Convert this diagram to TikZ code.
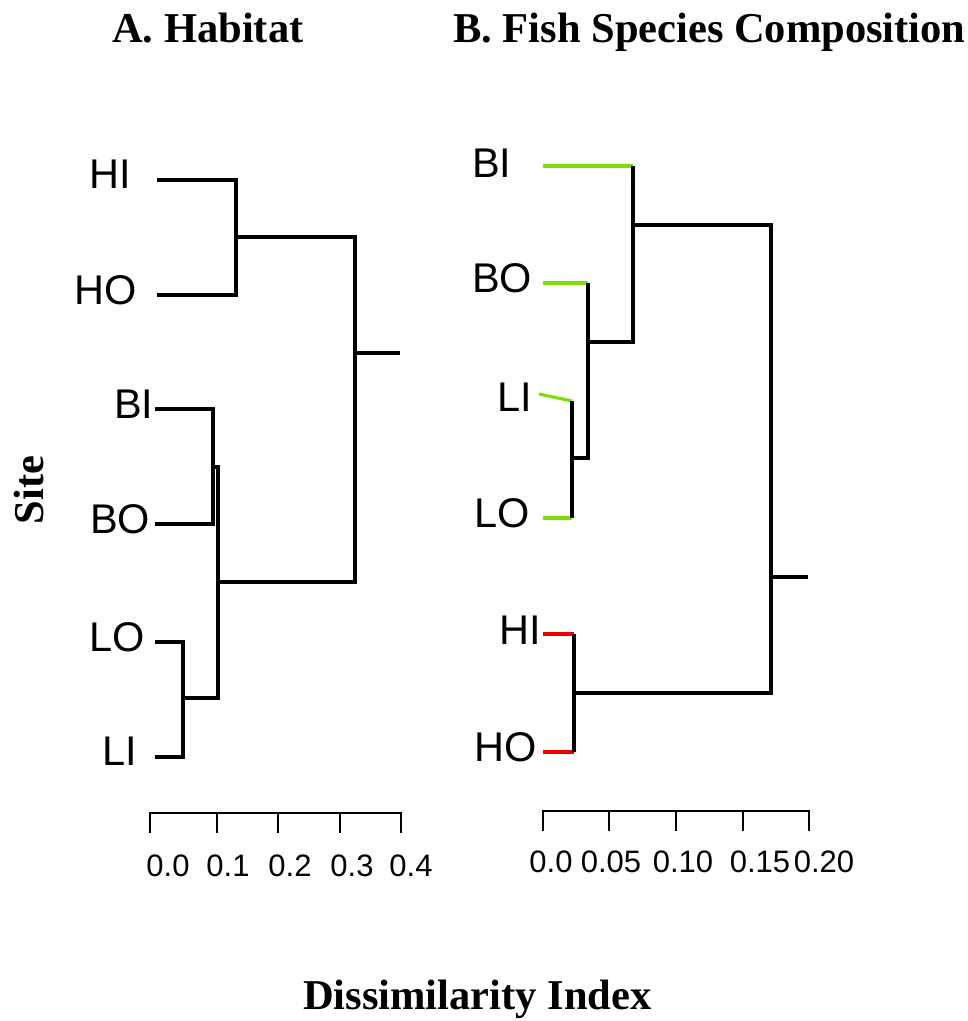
\documentclass[tikz,border=0pt]{standalone}
\usepackage{fontspec}
\newfontfamily\labfont{Liberation Sans}
\newfontfamily\headfont{Liberation Serif}
\definecolor{leafgreen}{RGB}{124,222,0}
\definecolor{leafred}{RGB}{230,0,0}
\begin{document}
\begin{tikzpicture}[x=1pt,y=-1pt,
  branch/.style={line width=3.1pt,black,line join=miter},
  leafg/.style={line width=3.1pt,leafgreen},
  leafr/.style={line width=3.1pt,leafred},
  site/.style={inner sep=0pt,anchor=base west,font=\labfont\fontsize{41.5}{45}\selectfont},
  ticklab/.style={inner sep=0pt,anchor=base,font=\labfont\fontsize{31}{34}\selectfont},
  head/.style={inner sep=0pt,anchor=base west,font=\headfont\bfseries\fontsize{42.5}{46}\selectfont},
  axisline/.style={line width=2.8pt,black,line join=miter}]
\useasboundingbox (0,0) rectangle (968,1021);

% ---------- titles ----------
\node[head] (titleA) at (112,42) {A. Habitat};
\node[head] (titleB) at (453,42) {B. Fish Species Composition};
\node[inner sep=0pt,rotate=90,font=\headfont\bfseries\fontsize{42.5}{46}\selectfont] (ylab) at (29,490) {Site};
\node[head] (xlab) at (303,1009) {Dissimilarity Index};

% ---------- panel A: habitat dendrogram ----------
\node[site] (aHI) at (89,188) {HI};
\node[site] (aHO) at (74,304) {HO};
\node[site] (aBI) at (114,418) {BI};
\node[site] (aBO) at (90,533) {BO};
\node[site] (aLO) at (89,651) {LO};
\node[site] (aLI) at (102,765) {LI};

\coordinate (aHIs) at (157,180); \coordinate (aHIe) at (236,180);
\coordinate (aHOs) at (157,295); \coordinate (aHOe) at (236,295);
\coordinate (aBIs) at (155,409); \coordinate (aBIe) at (213,409);
\coordinate (aBOs) at (155,524); \coordinate (aBOe) at (213,524);
\coordinate (aLOs) at (155,642); \coordinate (aLOe) at (183,642);
\coordinate (aLIs) at (155,757); \coordinate (aLIe) at (183,757);
\coordinate (aH)  at (236,237);
\coordinate (aB)  at (213,467);
\coordinate (aL)  at (183,698);
\coordinate (aBL) at (218,582);
\coordinate (aR)  at (355,353);
\coordinate (aRt) at (400,353);

\draw[branch] (aHIs) -- (aHIe) -- (aHOe) -- (aHOs);
\draw[branch] (aBIs) -- (aBIe) -- (aBOe) -- (aBOs);
\draw[branch] (aLOs) -- (aLOe) -- (aLIe) -- (aLIs);
\draw[branch] (aB) -| (aBL);
\draw[branch] (aL) -| (aBL);
\draw[branch] (aBL) -| (aR);
\draw[branch] (aH) -| (aR);
\draw[branch] (aR) -- (aRt);

% axis A
\coordinate (aX0) at (150,813); \coordinate (aX4) at (401,813);
\draw[axisline] ([yshift=-20pt]aX0) -- (aX0) -- (aX4) -- ([yshift=-20pt]aX4);
\foreach \t in {217,278,340} \draw[axisline] (\t,813) -- (\t,833);
\node[ticklab] (aT0) at (168,876) {0.0};
\node[ticklab] (aT1) at (228,876) {0.1};
\node[ticklab] (aT2) at (290,876) {0.2};
\node[ticklab] (aT3) at (352,876) {0.3};
\node[ticklab] (aT4) at (411,876) {0.4};

% ---------- panel B: fish species dendrogram ----------
\node[site] (bBI) at (472,177) {BI};
\node[site] (bBO) at (472,292) {BO};
\node[site] (bLI) at (497,411) {LI};
\node[site] (bLO) at (474,527) {LO};
\node[site] (bHI) at (499,644) {HI};
\node[site] (bHO) at (474,761) {HO};

\coordinate (bBIs) at (543,166); \coordinate (bBIe) at (633,166);
\coordinate (bBOs) at (543,283); \coordinate (bBOe) at (588,283);
\coordinate (bLIs) at (539,394); \coordinate (bLIe) at (572,401);
\coordinate (bLOs) at (543,518); \coordinate (bLOe) at (572,518);
\coordinate (bHIs) at (543,634); \coordinate (bHIe) at (574,634);
\coordinate (bHOs) at (543,752); \coordinate (bHOe) at (574,752);
\coordinate (bL)  at (572,458);
\coordinate (bBL) at (588,342);
\coordinate (bB)  at (633,225);
\coordinate (bH)  at (574,693);
\coordinate (bR)  at (771,577);
\coordinate (bRt) at (808,577);

\draw[leafg] (bBIs) -- (bBIe);
\draw[leafg] (bBOs) -- (bBOe);
\draw[leafg] (bLIs) -- (bLIe);
\draw[leafg] (bLOs) -- (bLOe);
\draw[leafr] (bHIs) -- (bHIe);
\draw[leafr] (bHOs) -- (bHOe);

\draw[branch] (bLIe) -- (bLOe);
\draw[branch] (bBOe) |- (bL);
\draw[branch] (bBIe) |- (bBL);
\draw[branch] (bHIe) -- (bHOe);
\draw[branch] (bB) -| (bR);
\draw[branch] (bH) -| (bR);
\draw[branch] (bR) -- (bRt);

% axis B
\coordinate (bX0) at (543,811); \coordinate (bX4) at (809,811);
\draw[axisline] ([yshift=-20pt]bX0) -- (bX0) -- (bX4) -- ([yshift=-20pt]bX4);
\foreach \t in {609,676,743} \draw[axisline] (\t,811) -- (\t,831);
\node[ticklab] (bT0) at (551,872) {0.0};
\node[ticklab] (bT1) at (611,872) {0.05};
\node[ticklab] (bT2) at (683,872) {0.10};
\node[ticklab] (bT3) at (760,872) {0.15};
\node[ticklab] (bT4) at (824,872) {0.20};
\end{tikzpicture}
\end{document}
